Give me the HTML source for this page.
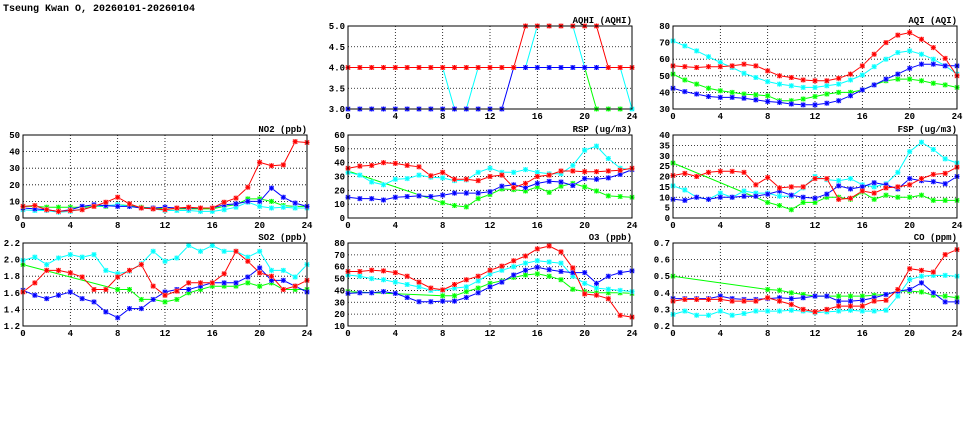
<!DOCTYPE html>
<html><head><meta charset="utf-8"><style>
html,body{margin:0;padding:0;background:#fff;}
svg{display:block;}
text{font-family:"Liberation Mono","DejaVu Sans Mono",monospace;font-weight:bold;fill:#000;}
</style></head><body>
<svg id="chart" width="975" height="447" viewBox="0 0 975 447" xmlns="http://www.w3.org/2000/svg">
<rect width="975" height="447" fill="#fff"/>
<text x="3" y="11" font-size="10">Tseung Kwan O, 20260101-20260104</text>
</svg>
<script>
const hours=[0,1,2,3,4,5,6,7,8,9,10,11,12,13,14,15,16,17,18,19,20,21,22,23,24];
const xTicks=[0,4,8,12,16,20,24];
const seriesColors=['#00ff00','#00ffff','#0000ff','#ff0000'];
const seriesNames=['green','cyan','blue','red'];
const N=null;
// NO2
const no2Green=[7,7,6.5,6.5,6.5,6.5,7,7,8,7.5,6.5,6,5.5,5.5,5.5,5.5,5.5,7,8,11.5,11.5,10,7.5,7,7];
const no2Cyan=[5,4.5,4.5,3.5,4,5.5,7,7.5,8,7,6,5.5,4.5,4.5,4.5,4,4,5,6.5,9.5,7,6,6.5,6,6];
const no2Blue=[6,5.5,5,4,5,7,8,7.5,7,7,6,6,6.5,6,6,6,6,8,8.5,10,10,18,12.5,9,7];
const no2Red=[7,7.5,5,4,4.5,5,7,9.5,12.5,8.5,6,5.5,5,6,6.5,6,6,9.5,12,18.5,33.5,31.5,32,46,45.5];
const no2Ticks=[0,10,20,30,40,50];
// AQHI
const aqhiGreen=[4,4,4,4,4,4,4,4,4,4,4,4,4,4,4,4,4,4,4,4,4,3,3,3,3];
const aqhiCyan=[4,4,4,4,4,4,4,4,4,3,3,4,4,4,4,4,5,5,5,5,4,4,4,4,3];
const aqhiBlue=[3,3,3,3,3,3,3,3,3,3,3,3,3,3,4,4,4,4,4,4,4,4,4,4,4];
const aqhiRed=[4,4,4,4,4,4,4,4,4,4,4,4,4,4,4,5,5,5,5,5,5,5,4,4,4];
const aqhiTicks=[3.0,3.5,4.0,4.5,5.0];
// AQI
const aqiGreen=[51,47.5,45,42.5,41,40,39,38.5,38,35,35,36,37.5,39,40,40,41.5,44.5,47,48,48,47,45.5,44.5,43];
const aqiCyan=[71,68,65,61.5,58,55,51.5,49,46.5,45,44,43,43,44,45,47.5,50.5,55.5,60,64,65,63,60,56,51];
const aqiBlue=[42.5,40.5,39,37.5,37,37,36.5,35.5,34.5,34,33,32.5,32.5,33.5,35,38,41.5,44.5,48,51,54.5,57,57,56,56];
const aqiRed=[56,55.5,55,55.5,55.5,56,57,56,53,50,49,47.5,47,47,48.5,51,56,63,70,74.5,76,72,67,60.5,50];
const aqiTicks=[30,40,50,60,70,80];
// RSP
const rspGreen=[34,N,N,N,N,N,N,N,11,9,8,14,17,21,20.5,19.5,22.5,18.5,23,25,22.5,19.5,16,15.5,15];
const rspCyan=[33,31,26,24,28,28.5,31,29.5,29,27,27.5,33,36,33,33,35,33,32,32,38,49,52,43,36,35];
const rspBlue=[15,14,14,13,15,15.5,16,15.5,16.5,18,18,18,19,23,24,22,25,26.5,26,23.5,28.5,28,29,31.5,35];
const rspRed=[36,37.5,38,40,39.5,38,37,30.5,33,28,28,27,30,31,22,25,30,31,34,34,33.5,33.5,34,34.5,36];
const rspTicks=[0,10,20,30,40,50,60];
// FSP
const fspGreen=[26.5,N,N,N,N,N,N,N,7.5,6,4,7.5,7.5,10,10,9,12.5,9,11,10,10,11,8.5,8.5,8.5];
const fspCyan=[15.5,13.5,10,9,12,10,13,12,12,10.5,10.5,14.5,20,18.5,18,19,16,15,16.5,22,32,36.5,33,28.5,26.5];
const fspBlue=[9,8.5,10,9,10,10,10.5,10.5,11.5,13,11,10,9.5,11.5,15.5,14,15,17,16,14,19,18,17.5,16.5,20];
const fspRed=[20.5,21.5,20,22,22.5,22.5,22,16,19.5,14.5,15,15,19,19,9,9.5,13,12,14.5,15,16,19,21,21.5,24.5];
const fspTicks=[0,5,10,15,20,25,30,35,40];
// SO2
const so2Green=[1.94,N,N,N,N,N,N,N,1.64,1.64,1.52,1.52,1.49,1.52,1.6,1.64,1.68,1.68,1.68,1.72,1.68,1.72,1.64,1.64,1.64];
const so2Cyan=[1.99,2.03,1.94,2.02,2.06,2.03,2.06,1.87,1.83,1.86,1.95,2.1,1.98,2.02,2.17,2.1,2.17,2.1,2.1,2.03,2.1,1.87,1.87,1.79,1.94];
const so2Blue=[1.63,1.57,1.53,1.57,1.61,1.53,1.49,1.37,1.3,1.41,1.41,1.52,1.61,1.64,1.64,1.68,1.72,1.72,1.72,1.79,1.9,1.75,1.75,1.68,1.61];
const so2Red=[1.61,1.72,1.87,1.87,1.84,1.79,1.64,1.64,1.79,1.87,1.94,1.68,1.57,1.62,1.72,1.72,1.72,1.83,2.1,1.98,1.84,1.8,1.64,1.68,1.75];
const so2Ticks=[1.2,1.4,1.6,1.8,2.0,2.2];
// O3
const o3Green=[39,N,N,N,N,N,N,N,35.5,35.5,39,42,46,48,51,53,54,52,49,41,39,38,38,38,37.5];
const o3Cyan=[53,52,50,49,47,45,43,40,40,42,43,48,54,57,60,63,65,64,63,52,46,42,41,40,39];
const o3Blue=[37.5,38,38,39,37.5,34,30.5,30.5,31,31,34,38,43,47,53,57,59.5,57.5,56,55,55,46,52,55,56.5];
const o3Red=[56,56,57,56.5,55,52,47,42,40.5,45,49,52,57,60.5,65,69,75,77.5,72.5,59,37,36,33,19,17.5];
const o3Ticks=[10,20,30,40,50,60,70,80];
// CO
const coGreen=[0.50,N,N,N,N,N,N,N,0.42,0.415,0.40,0.39,0.38,0.38,0.38,0.38,0.38,0.385,0.39,0.41,0.41,0.405,0.385,0.38,0.37];
const coCyan=[0.27,0.29,0.265,0.265,0.29,0.265,0.275,0.29,0.29,0.29,0.295,0.29,0.28,0.285,0.29,0.295,0.29,0.29,0.295,0.38,0.48,0.50,0.505,0.505,0.50];
const coBlue=[0.365,0.365,0.365,0.365,0.38,0.365,0.36,0.36,0.365,0.37,0.365,0.37,0.38,0.38,0.35,0.35,0.355,0.37,0.39,0.41,0.42,0.46,0.40,0.345,0.345];
const coRed=[0.35,0.36,0.36,0.36,0.36,0.35,0.35,0.35,0.37,0.35,0.33,0.30,0.285,0.30,0.32,0.32,0.32,0.35,0.355,0.42,0.545,0.535,0.525,0.63,0.66];
const coTicks=[0.2,0.3,0.4,0.5,0.6,0.7];

const panels=[
 {id:'aqhi',label:'AQHI (AQHI)',x:348,y:26,w:284,h:83,ticks:aqhiTicks,dec:1,series:[aqhiGreen,aqhiCyan,aqhiBlue,aqhiRed]},
 {id:'aqi',label:'AQI (AQI)',x:673,y:26,w:284,h:83,ticks:aqiTicks,dec:0,series:[aqiGreen,aqiCyan,aqiBlue,aqiRed]},
 {id:'no2',label:'NO2 (ppb)',x:23,y:135,w:284,h:83,ticks:no2Ticks,dec:0,series:[no2Green,no2Cyan,no2Blue,no2Red]},
 {id:'rsp',label:'RSP (ug/m3)',x:348,y:135,w:284,h:83,ticks:rspTicks,dec:0,series:[rspGreen,rspCyan,rspBlue,rspRed]},
 {id:'fsp',label:'FSP (ug/m3)',x:673,y:135,w:284,h:83,ticks:fspTicks,dec:0,series:[fspGreen,fspCyan,fspBlue,fspRed]},
 {id:'so2',label:'SO2 (ppb)',x:23,y:243,w:284,h:83,ticks:so2Ticks,dec:1,series:[so2Green,so2Cyan,so2Blue,so2Red]},
 {id:'o3',label:'O3 (ppb)',x:348,y:243,w:284,h:83,ticks:o3Ticks,dec:0,series:[o3Green,o3Cyan,o3Blue,o3Red]},
 {id:'co',label:'CO (ppm)',x:673,y:243,w:284,h:83,ticks:coTicks,dec:1,series:[coGreen,coCyan,coBlue,coRed]}
];
const NS='http://www.w3.org/2000/svg';
const svg=document.getElementById('chart');
function mk(tag,attrs,parent){const e=document.createElementNS(NS,tag);for(const k in attrs)e.setAttribute(k,attrs[k]);(parent||svg).appendChild(e);return e;}
const lighten={'#00ff00':'#b0ffb0','#00ffff':'#b0ffff','#0000ff':'#b0b0ff','#ff0000':'#ffb0b0'};
panels.forEach(p=>{
 const g=mk('g',{});
 
 
 const ymin=p.ticks[0],ymax=p.ticks[p.ticks.length-1];
 const sx=v=>p.x+v/24*p.w;
 const sy=v=>p.y+p.h-(v-ymin)/(ymax-ymin)*p.h;
 p.ticks.forEach(t=>{
  const yy=sy(t);
  if(t!==ymin&&t!==ymax){const l=mk('line',{x1:p.x,x2:p.x+p.w,y1:yy,y2:yy,stroke:'#000','stroke-width':0.8,'stroke-dasharray':'1,2'},g);
   }
  const tx=mk('text',{x:p.x-3,y:yy+3,'font-size':9,'text-anchor':'end'},g);
  
  tx.textContent=t.toFixed(p.dec);
 });
 xTicks.forEach(t=>{
  const xx=sx(t);
  if(t!==0&&t!==24){const l=mk('line',{x1:xx,x2:xx,y1:p.y,y2:p.y+p.h,stroke:'#000','stroke-width':0.8,'stroke-dasharray':'1,2'},g);
   }
  const tx=mk('text',{x:xx,y:p.y+p.h+10,'font-size':9,'text-anchor':'middle'},g);
  
  tx.textContent=t;
 });
 p.series.forEach((arr,si)=>{
  const col=seriesColors[si];
  const pts=[];
  arr.forEach((v,i)=>{if(v!==null)pts.push([sx(hours[i]),sy(v)]);});
  const pl=mk('polyline',{points:pts.map(q=>q[0].toFixed(1)+','+q[1].toFixed(1)).join(' '),fill:'none',stroke:col,'stroke-width':1},g);
  
  
  pts.forEach(q=>{
   const m=mk('g',{},g);
   
   
   mk('rect',{x:q[0]-2.5,y:q[1]-2.5,width:5,height:5,fill:lighten[col]},m);
   mk('path',{d:`M${q[0]-2.5},${q[1]}h5M${q[0]},${q[1]-2.5}v5M${q[0]-2},${q[1]-2}l4,4M${q[0]-2},${q[1]+2}l4,-4`,stroke:col,'stroke-width':1},m);
  });
 });
 const fr=mk('rect',{x:p.x,y:p.y,width:p.w,height:p.h,fill:'none',stroke:'#000','stroke-width':1},g);
 
 const lb=mk('text',{x:p.x+p.w,y:p.y-3,'font-size':9,'text-anchor':'end'},g);
 
 lb.textContent=p.label;
});
</script>
</body></html>
